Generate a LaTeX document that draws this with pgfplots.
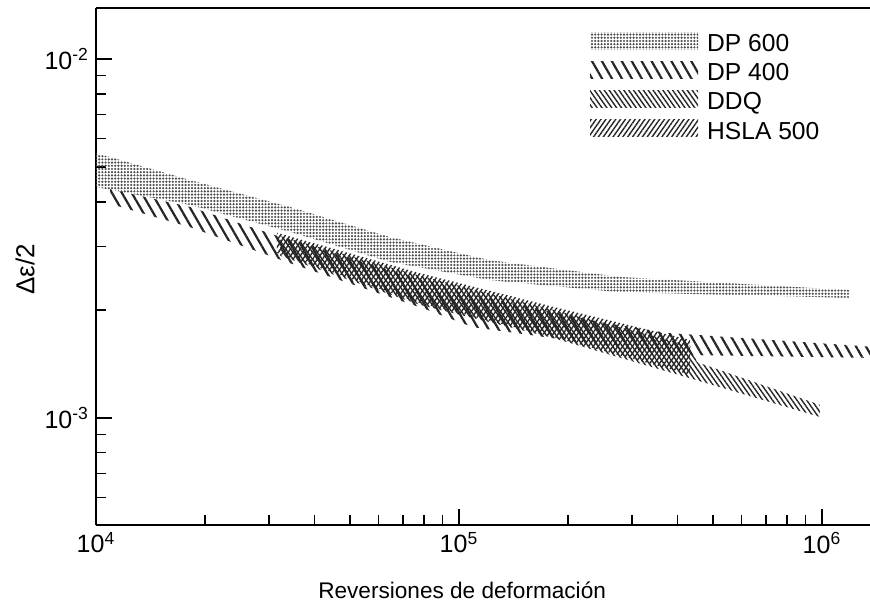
\documentclass[border=0pt]{standalone}
\usepackage{fontspec}
\setmainfont{Liberation Sans}
\usepackage{pgfplots}
\pgfplotsset{compat=1.18}
\usetikzlibrary{patterns,patterns.meta}

\begin{document}
\begin{tikzpicture}
\begin{axis}[
  name=ax,
  scale only axis,
  width=387pt, height=258.5pt,
  xmode=log, ymode=log,
  xmin=1e4, xmax=1.356e6,
  ymin=5.03e-4, ymax=1.387e-2,
  axis x line*=box, axis y line*=left,
  xtick pos=left, ytick pos=left,
  tick align=inside,
  xtick={1e4,1e5,1e6},
  xticklabels={10\textsuperscript{4},10\textsuperscript{5},10\textsuperscript{6}},
  ytick={1e-3,1e-2},
  yticklabels={10\textsuperscript{-3},10\textsuperscript{-2}},
  minor xtick={2e4,3e4,4e4,5e4,6e4,7e4,8e4,9e4,2e5,3e5,4e5,5e5,6e5,7e5,8e5,9e5},
  minor ytick={6e-4,7e-4,8e-4,9e-4,2e-3,3e-3,4e-3,5e-3,6e-3,7e-3,8e-3,9e-3},
  major tick length=8pt, minor tick length=5pt,
  axis line style={line width=0.8pt},
  every tick/.style={black, line width=0.8pt},
  tick label style={font=\fontsize{12.5}{14}\selectfont},
  xlabel={Reversiones de deformación},
  ylabel={Δε/2},
  every axis x label/.style={at={(axis description cs:0.473,-0.1257)}, anchor=center, font=\fontsize{11.3}{13}\selectfont},
  every axis y label/.style={at={(axis description cs:-0.0917,0.495)}, rotate=90, anchor=center, font=\fontsize{13}{15}\selectfont},
  legend style={at={(axis description cs:0.638,0.954)}, anchor=north west, draw=none, fill=none, inner sep=0pt,
    font=\fontsize{12.3}{14}\selectfont, row sep=4.75pt, column sep=4.5pt,
    nodes={inner sep=0pt, text height=9pt, text depth=0pt}},
  legend cell align=left,
  legend image code/.code={\path[#1] (0pt,-3.4pt) rectangle (54pt,5.3pt);},
]
% DP 600
\addplot[draw=none, pattern={Dots[distance=1.6pt, radius=0.6pt]}, pattern color=black!70] coordinates {
(1.0e4,5.47e-3) (1.816e4,4.60e-3) (3.422e4,3.87e-3) (6.454e4,3.19e-3) (1.217e5,2.75e-3) (2.777e5,2.47e-3) (1.194e6,2.27e-3)
(1.194e6,2.16e-3) (2.777e5,2.24e-3) (1.217e5,2.42e-3) (6.454e4,2.72e-3) (3.422e4,3.30e-3) (1.816e4,3.92e-3) (1.0e4,4.40e-3)
} -- cycle;
\addlegendentry{DP 600}
% DP 400
\addplot[draw=none, pattern={Lines[angle=-60, distance=4.3pt, line width=1.1pt]}, pattern color=black!85] coordinates {
(1.093e4,4.34e-3) (1.816e4,3.87e-3) (3.422e4,3.13e-3) (7.957e4,2.42e-3) (1.093e5,2.20e-3) (2.446e5,1.85e-3) (3.741e5,1.725e-3) (1.356e6,1.58e-3)
(1.356e6,1.47e-3) (3.741e5,1.50e-3) (2.446e5,1.60e-3) (1.093e5,1.79e-3) (7.957e4,2.02e-3) (3.422e4,2.70e-3) (1.816e4,3.40e-3) (1.093e4,3.95e-3)
} -- cycle;
\addlegendentry{DP 400}
% DDQ
\addplot[draw=none, pattern={Lines[angle=-55, distance=2pt, line width=0.7pt]}, pattern color=black!85] coordinates {
(3.213e4,3.21e-3) (7.807e4,2.49e-3) (1.816e5,2.00e-3) (4.329e5,1.59e-3) (4.525e5,1.43e-3) (9.87e5,1.087e-3)
(9.87e5,1.006e-3) (4.329e5,1.29e-3) (1.816e5,1.67e-3) (7.807e4,2.065e-3) (3.213e4,2.83e-3)
} -- cycle;
\addlegendentry{DDQ}
% HSLA 500
\addplot[draw=none, pattern={Lines[angle=55, distance=2pt, line width=0.7pt]}, pattern color=black!85] coordinates {
(3.152e4,3.28e-3) (7.807e4,2.53e-3) (1.816e5,2.04e-3) (4.329e5,1.65e-3)
(4.329e5,1.32e-3) (1.816e5,1.68e-3) (7.807e4,2.09e-3) (3.152e4,2.88e-3)
} -- cycle;
\addlegendentry{HSLA 500}
\end{axis}
\pgfresetboundingbox
\path[use as bounding box] ([xshift=-48pt,yshift=-38pt]ax.south west) rectangle ([yshift=4pt]ax.north east);
\end{tikzpicture}
\end{document}
